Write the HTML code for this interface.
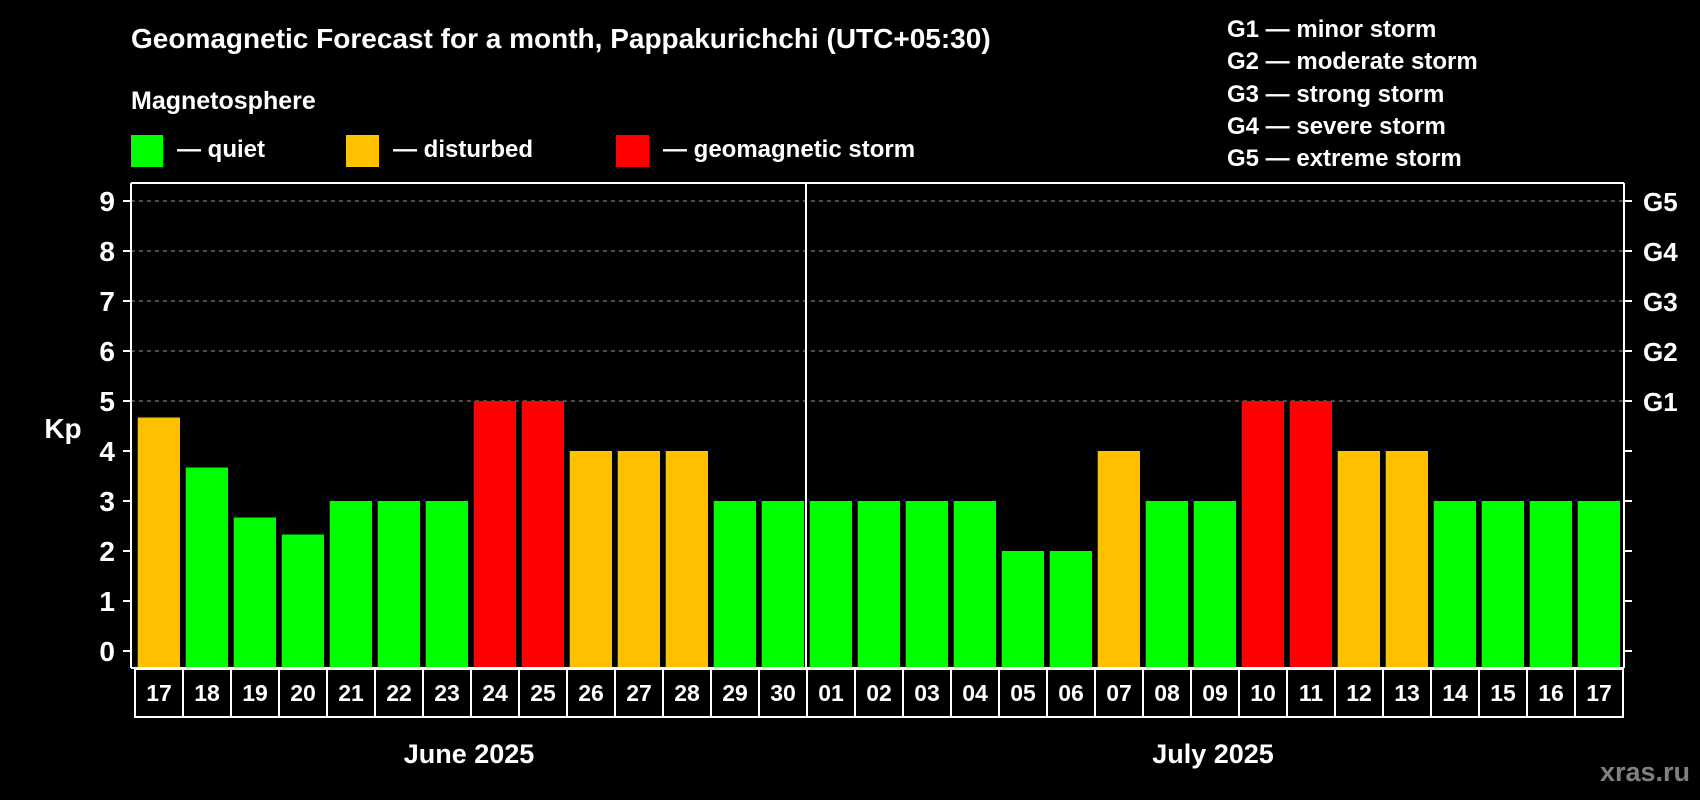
<!DOCTYPE html>
<html><head><meta charset="utf-8"><style>
html,body{margin:0;padding:0;background:#000;width:1700px;height:800px;overflow:hidden}
svg{display:block;font-family:"Liberation Sans",Arial,sans-serif;font-weight:bold}
</style></head><body>
<svg id="chart" width="1700" height="800" viewBox="0 0 1700 800">
<rect x="0" y="0" width="1700" height="800" fill="#000"/>
<text x="131" y="48" font-size="28" fill="#fff">Geomagnetic Forecast for a month, Pappakurichchi (UTC+05:30)</text>
<text x="131" y="109" font-size="25" fill="#fff">Magnetosphere</text>
<g><rect x="131" y="135" width="32" height="32" fill="#00ff00"/><text x="177" y="157" font-size="24" fill="#fff">— quiet</text></g>
<g><rect x="346" y="135" width="33" height="32" fill="#ffc000"/><text x="393" y="157" font-size="24" fill="#fff">— disturbed</text></g>
<g><rect x="616" y="135" width="33" height="32" fill="#ff0000"/><text x="663" y="157" font-size="24" fill="#fff">— geomagnetic storm</text></g>
<g font-size="24" fill="#fff">
<text x="1227" y="37">G1 — minor storm</text>
<text x="1227" y="69">G2 — moderate storm</text>
<text x="1227" y="102">G3 — strong storm</text>
<text x="1227" y="134">G4 — severe storm</text>
<text x="1227" y="166">G5 — extreme storm</text>
</g>
<text x="63" y="438" font-size="28" fill="#fff" text-anchor="middle">Kp</text>
<g id="grid"></g>
<g id="bars"></g>
<g id="axes"></g>
<text x="469" y="763" font-size="27" fill="#fff" text-anchor="middle">June 2025</text>
<text x="1213" y="763" font-size="27" fill="#fff" text-anchor="middle">July 2025</text>
<text x="1690" y="781" font-size="27" fill="#808080" text-anchor="end">xras.ru</text>
</svg>
<script>
const days = ["17","18","19","20","21","22","23","24","25","26","27","28","29","30","01","02","03","04","05","06","07","08","09","10","11","12","13","14","15","16","17"];
const kpValues = [4.67,3.67,2.67,2.33,3,3,3,5,5,4,4,4,3,3,3,3,3,3,2,2,4,3,3,5,5,4,4,3,3,3,3];
const levels = ["disturbed","quiet","quiet","quiet","quiet","quiet","quiet","storm","storm","disturbed","disturbed","disturbed","quiet","quiet","quiet","quiet","quiet","quiet","quiet","quiet","disturbed","quiet","quiet","storm","storm","disturbed","disturbed","quiet","quiet","quiet","quiet"];
const yTicks = [0,1,2,3,4,5,6,7,8,9];
const gLabels = ["G1","G2","G3","G4","G5"];
const gLevels = [5,6,7,8,9];
const monthBreakIndex = 14;

const NS="http://www.w3.org/2000/svg";
const L=131,R=1624,T=183,B=668,SLOT0=135,SLOTW=48;
const y=v=>651-v*50;
const x=i=>SLOT0+i*SLOTW;
const colors={quiet:"#00ff00",disturbed:"#ffc000",storm:"#ff0000"};
function mk(tag,attrs,parent){const e=document.createElementNS(NS,tag);for(const k in attrs)e.setAttribute(k,attrs[k]);parent.appendChild(e);return e;}
const grid=document.getElementById('grid'),bars=document.getElementById('bars'),axes=document.getElementById('axes');

gLevels.forEach((v,k)=>{
  const ln=mk('line',{x1:L,x2:R,y1:y(v),y2:y(v),stroke:'#999','stroke-width':1,'stroke-dasharray':'4 4'},grid);
  
  
  const t=mk('text',{x:1643,y:y(v)+10,'font-size':26,fill:'#fff'},axes);
  t.textContent=gLabels[k];
  
  
});

kpValues.forEach((v,i)=>{
  const r=mk('rect',{x:x(i)+2.7,y:y(v),width:42.3,height:B-y(v),fill:colors[levels[i]]},bars);
  
  
});

// frame
[[L,T,R,T],[L,T,L,B],[R,T,R,B],[L,B,R,B]].forEach(a=>{
  const ln=mk('line',{x1:a[0],y1:a[1],x2:a[2],y2:a[3],stroke:'#fff','stroke-width':2},axes);
  
  
});
const div=mk('line',{x1:x(monthBreakIndex)-1,x2:x(monthBreakIndex)-1,y1:T,y2:B,stroke:'#fff','stroke-width':2},axes);



yTicks.forEach(v=>{
  const tk=mk('line',{x1:L-8,x2:L,y1:y(v),y2:y(v),stroke:'#fff','stroke-width':2},axes);
  
  
  const tk2=mk('line',{x1:R,x2:R+8,y1:y(v),y2:y(v),stroke:'#fff','stroke-width':2},axes);
  
  
  const t=mk('text',{x:115,y:y(v)+10,'font-size':28,fill:'#fff','text-anchor':'end'},axes);
  t.textContent=v;
  
  
});

days.forEach((d,i)=>{
  const r=mk('rect',{x:x(i),y:B+1,width:SLOTW,height:48,fill:'#000',stroke:'#fff','stroke-width':2},axes);
  
  
  const t=mk('text',{x:x(i)+SLOTW/2,y:B+33,'font-size':23,fill:'#fff','text-anchor':'middle'},axes);
  t.textContent=d;
  
  
});
</script>
</body></html>
